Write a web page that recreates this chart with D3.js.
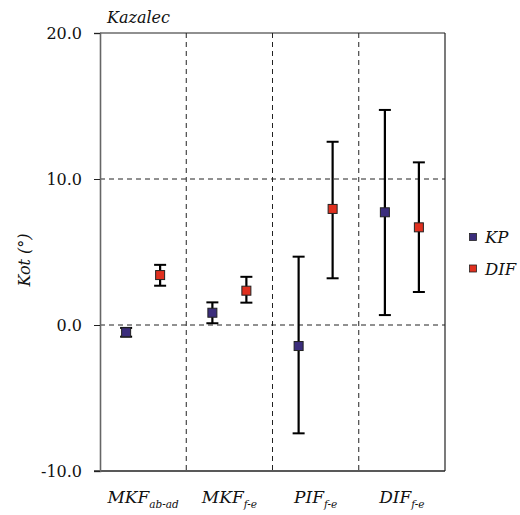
<!DOCTYPE html>
<html>
<head>
<meta charset="utf-8">
<script src="https://cdn.jsdelivr.net/npm/d3@7"></script>
<style>
  html, body { margin: 0; padding: 0; background: #fff; }
</style>
</head>
<body>
<svg id="chart" width="520" height="515"></svg>
<script>
// Categories (main label + subscript)
const categories = ["MKF", "MKF", "PIF", "DIF"];
const subscripts = ["ab-ad", "f-e", "f-e", "f-e"];
const seriesNames = ["KP", "DIF"];
const seriesColors = ["#3b2d7c", "#e0301f"];

// Mean and error-bar extents (degrees)
const kpMean  = [-0.5, 0.84, -1.44, 7.72];
const kpLow   = [-0.8, 0.12, -7.42, 0.68];
const kpHigh  = [-0.2, 1.55, 4.68, 14.73];
const difMean = [3.42, 2.35, 7.95, 6.69];
const difLow  = [2.69, 1.53, 3.2, 2.26];
const difHigh = [4.12, 3.3, 12.55, 11.14];

const yTicks = [-10, 0, 10, 20];

const FONT = "DejaVu Serif, serif";

const svg = d3.select("#chart");
const m = { left: 100, top: 33, right: 445, bottom: 471 };

const x = d3.scaleBand().domain(d3.range(categories.length)).range([m.left, m.right]);
const xs = d3.scalePoint().domain(seriesNames)
  .range([x.bandwidth() / 2 - 17, x.bandwidth() / 2 + 17]);
const y = d3.scaleLinear().domain([-10, 20]).range([m.bottom, m.top]);

// Dashed grid lines
svg.append("g").selectAll("line").data([0, 10]).join("line")
  .attr("x1", m.left).attr("x2", m.right)
  .attr("y1", d => y(d)).attr("y2", d => y(d))
  .attr("stroke", "#222").attr("stroke-width", 1).attr("stroke-dasharray", "5,4");
svg.append("g").selectAll("line").data([1, 2, 3]).join("line")
  .attr("x1", d => x(d)).attr("x2", d => x(d))
  .attr("y1", m.top).attr("y2", m.bottom)
  .attr("stroke", "#222").attr("stroke-width", 1).attr("stroke-dasharray", "5,4");

// Frame
svg.append("line").attr("x1", m.left).attr("x2", m.right).attr("y1", m.top).attr("y2", m.top)
  .attr("stroke", "#222").attr("stroke-width", 1.2);
svg.append("line").attr("x1", m.right).attr("x2", m.right).attr("y1", m.top).attr("y2", m.bottom)
  .attr("stroke", "#222").attr("stroke-width", 1.2);
svg.append("line").attr("x1", m.left - 6).attr("x2", m.right).attr("y1", m.bottom).attr("y2", m.bottom)
  .attr("stroke", "#222").attr("stroke-width", 1.4);

// Y axis (plain hyphen for negatives)
const yAxis = d3.axisLeft(y).tickValues(yTicks).tickFormat(d => d.toFixed(1)).tickSize(6).tickPadding(12);
const ya = svg.append("g").attr("transform", `translate(${m.left},0)`).call(yAxis)
  .attr("font-family", FONT).attr("font-size", 16);
ya.select(".domain").attr("stroke", "#666").attr("stroke-width", 1.6);
ya.selectAll(".tick line").attr("stroke", "#222");
ya.selectAll("text").attr("fill", "#111").attr("dy", "0.36em");

// Y label
svg.append("text").attr("transform", `translate(30,${(m.top + m.bottom) / 2 + 8}) rotate(-90)`)
  .attr("text-anchor", "middle").attr("font-family", FONT).attr("font-size", 16)
  .attr("font-style", "italic").attr("fill", "#111")
  .text("Kot (°)");

// Title
svg.append("text").attr("x", 107).attr("y", 23).attr("font-family", FONT).attr("font-size", 16)
  .attr("font-style", "italic").attr("fill", "#111").text("Kazalec");

// X labels
const xl = svg.append("g").selectAll("text").data(categories).join("text")
  .attr("x", (d, i) => x(i) + x.bandwidth() / 2).attr("y", 503)
  .attr("text-anchor", "middle").attr("font-family", FONT).attr("font-style", "italic")
  .attr("fill", "#111").attr("font-size", 17);
xl.append("tspan").text(d => d);
xl.append("tspan").attr("font-size", 10.5).attr("dy", 5).text((d, i) => subscripts[i]);

// Error bars and markers
const series = [
  { name: "KP", mean: kpMean, low: kpLow, high: kpHigh, color: seriesColors[0] },
  { name: "DIF", mean: difMean, low: difLow, high: difHigh, color: seriesColors[1] }
];
const capW = 12, mk = 9;
series.forEach(s => {
  const g = svg.append("g");
  s.mean.forEach((v, i) => {
    const cx = x(i) + xs(s.name);
    g.append("line").attr("x1", cx).attr("x2", cx).attr("y1", y(s.low[i])).attr("y2", y(s.high[i]))
      .attr("stroke", "#000").attr("stroke-width", 2.2);
    [s.low[i], s.high[i]].forEach(e => {
      g.append("line").attr("x1", cx - capW / 2).attr("x2", cx + capW / 2)
        .attr("y1", y(e)).attr("y2", y(e)).attr("stroke", "#000").attr("stroke-width", 2);
    });
    g.append("rect").attr("x", cx - mk / 2).attr("y", y(v) - mk / 2).attr("width", mk).attr("height", mk)
      .attr("fill", s.color).attr("stroke", "#222").attr("stroke-width", 1);
  });
});

// Legend
const lg = svg.append("g").selectAll("g").data(series).join("g")
  .attr("transform", (d, i) => `translate(473,${237 + i * 31.5})`);
lg.append("rect").attr("x", -3.5).attr("y", -3.5).attr("width", 7).attr("height", 7)
  .attr("fill", d => d.color).attr("stroke", "#222").attr("stroke-width", 0.8);
lg.append("text").attr("x", 12).attr("y", 6).attr("font-family", FONT).attr("font-size", 16.5)
  .attr("font-style", "italic").attr("fill", "#111").text(d => d.name);
</script>
</body>
</html>
